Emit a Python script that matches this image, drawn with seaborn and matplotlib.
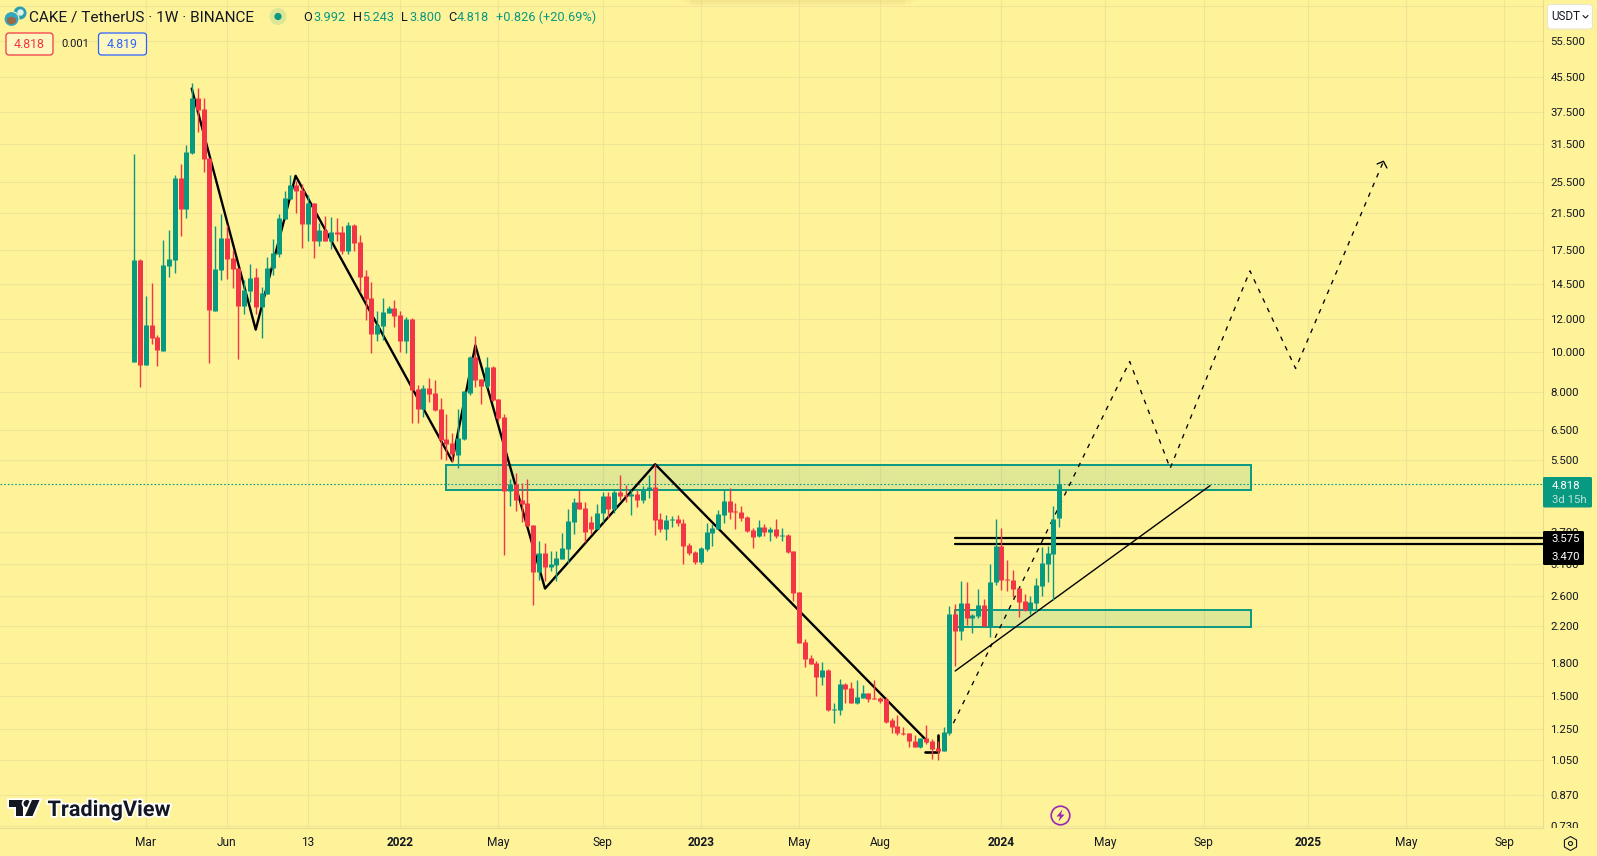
import numpy as np
import pandas as pd
import seaborn as sns
import matplotlib
matplotlib.use('Agg')
import matplotlib.pyplot as plt
import matplotlib.patheffects as pe
from matplotlib.patches import Rectangle, Circle, Polygon, FancyBboxPatch, RegularPolygon, Ellipse
from matplotlib.ticker import NullLocator
from matplotlib.transforms import Bbox, TransformedBbox

# weekly candles, index 0 = week of 15 Feb 2021
opens = [9.45,16.59,9.30,11.59,10.86,10.05,16.06,16.59,26.06,21.99,
         29.93,40.5,38.1,29.1,12.52,15.71,18.74,16.78,15.88,12.88,
         14.0,15.1,12.81,13.75,15.88,17.16,20.8,23.23,25.1,24.41,
         20.24,22.72,18.43,19.57,18.43,19.35,19.35,17.45,20.13,18.33,
         15.2,13.47,11.05,11.53,12.4,12.74,12.27,10.62,12.0,8.14,
         7.29,8.19,7.96,7.29,6.19,6.05,5.67,6.19,7.96,9.72,
         8.61,8.28,9.2,7.71,6.99,4.65,4.83,4.42,4.34,3.85,
         2.97,3.3,3.05,3.08,3.19,3.37,3.92,4.37,4.23,3.92,
         3.76,4.1,4.51,4.2,4.61,4.54,4.51,4.57,4.42,4.67,
         4.75,3.98,3.76,3.96,3.98,3.9,3.45,3.32,3.13,3.37,
         3.68,3.77,4.07,4.4,4.16,4.13,4.02,3.75,3.63,3.81,
         3.7,3.77,3.63,3.65,3.34,2.66,2.02,1.85,1.8,1.66,
         1.73,1.385,1.39,1.6,1.57,1.44,1.48,1.52,1.48,1.48,
         1.47,1.31,1.27,1.225,1.22,1.17,1.13,1.19,1.17,1.125,
         1.107,1.225,2.35,2.145,2.50,2.31,2.33,2.48,2.21,2.81,
         3.43,2.86,2.84,2.72,2.53,2.41,2.50,2.75,3.10,3.28,3.992]
closes = [16.59,9.30,11.59,10.80,10.10,16.14,16.68,26.06,21.99,30.1,
          40.5,37.9,28.95,12.59,15.8,18.74,16.68,15.8,12.88,14.07,
          15.01,12.81,13.82,15.88,17.25,20.92,23.36,25.1,24.28,20.24,
          22.72,18.43,19.57,18.43,19.35,19.2,17.45,20.13,18.23,15.1,
          13.39,11.05,11.59,12.45,12.74,12.2,10.62,12.0,8.10,7.29,
          8.19,7.92,7.25,6.16,6.02,5.7,6.22,8.05,9.72,8.56,
          8.28,9.2,7.67,6.95,4.65,4.83,4.42,4.33,3.83,2.97,
          3.3,3.05,3.1,3.21,3.39,3.93,4.37,4.2,3.7,3.76,
          4.12,4.51,4.2,4.61,4.51,4.51,4.57,4.42,4.67,4.75,
          3.96,3.76,3.96,3.98,3.9,3.43,3.3,3.13,3.39,3.7,
          3.79,4.09,4.4,4.13,4.13,4.0,3.73,3.6,3.81,3.7,
          3.77,3.63,3.65,3.32,2.65,2.01,1.84,1.79,1.66,1.73,
          1.39,1.395,1.6,1.56,1.44,1.49,1.52,1.47,1.47,1.46,
          1.3,1.26,1.22,1.215,1.17,1.13,1.19,1.16,1.12,1.107,
          1.23,2.35,2.145,2.50,2.31,2.34,2.48,2.21,2.81,3.43,
          2.84,2.84,2.70,2.51,2.41,2.51,2.76,3.12,3.30,3.97,4.818]
highs = [29.77,16.65,13.60,14.62,10.98,18.53,19.57,26.5,28.16,31.3,
         44.0,42.85,40.5,29.1,20.0,21.4,20.13,17.54,15.88,14.85,
         16.23,15.88,14.3,16.87,18.64,21.4,24.28,26.5,25.67,25.25,
         23.73,22.72,20.35,21.15,21.04,20.92,20.0,20.46,20.24,19.06,
         15.71,14.7,12.52,13.47,12.88,13.32,12.52,12.12,12.06,8.33,
         8.33,8.66,8.56,7.75,7.1,6.4,7.29,8.05,9.77,10.91,
         8.61,9.72,9.25,7.71,7.1,4.97,5.13,4.86,4.95,3.85,
         3.53,3.49,3.33,3.33,3.68,4.2,4.47,4.67,4.37,4.04,
         4.31,4.61,4.61,4.67,5.06,4.8,4.67,4.67,4.77,5.06,
         5.38,4.12,4.06,4.04,4.06,3.97,3.49,3.34,3.41,3.9,
         3.86,4.18,4.67,4.72,4.35,4.28,4.04,3.79,3.95,3.86,
         3.81,3.97,3.79,3.67,3.34,2.66,2.05,1.88,1.82,1.81,
         1.74,1.44,1.65,1.61,1.62,1.64,1.59,1.52,1.64,1.49,
         1.49,1.33,1.35,1.26,1.225,1.21,1.19,1.28,1.18,1.17,
         1.26,2.46,2.49,2.82,2.81,2.36,2.70,2.56,3.10,3.97,
         3.78,3.17,3.01,2.72,2.63,2.60,2.87,3.41,3.43,4.27,5.243]
lows = [9.45,8.24,9.30,10.43,9.25,10.05,15.10,15.45,18.95,20.92,
        29.77,33.7,26.95,9.4,12.52,14.85,14.93,14.22,9.6,12.33,
        13.17,12.33,10.8,13.75,15.28,16.87,20.8,23.23,21.49,17.77,
        18.43,16.78,17.95,18.43,17.67,18.43,17.16,17.16,17.45,13.91,
        11.92,9.94,10.62,10.68,12.4,11.47,10.0,9.94,6.76,6.76,
        6.98,7.58,7.21,5.54,5.51,5.44,5.27,6.16,7.87,8.23,
        7.5,8.19,7.63,6.83,3.26,4.27,4.16,3.92,3.83,2.48,
        2.84,2.83,2.98,2.83,3.19,3.12,3.66,4.2,3.51,3.66,
        3.76,3.92,4.0,4.12,4.42,4.37,4.06,4.26,4.34,4.47,
        3.64,3.7,3.55,3.81,3.83,3.11,3.26,3.11,3.11,3.34,
        3.43,3.77,3.9,3.97,3.77,3.93,3.7,3.39,3.6,3.63,
        3.53,3.59,3.53,3.3,2.53,2.01,1.76,1.79,1.5,1.59,
        1.38,1.29,1.35,1.44,1.44,1.43,1.48,1.45,1.47,1.44,
        1.29,1.22,1.21,1.21,1.13,1.13,1.125,1.15,1.06,1.055,
        1.107,1.21,1.77,2.04,2.22,2.12,2.30,2.21,2.07,2.77,
        2.69,2.67,2.59,2.32,2.40,2.35,2.38,2.60,2.81,2.54,3.800]

# hand drawn lines on the chart
zigzag_weeks = [9.93, 21.0, 27.9, 55.0, 59.0, 71.05, 90.1, 137.2]
zigzag_prices = [42.7, 11.3, 26.4, 5.47, 10.36, 2.71, 5.38, 1.167]
corner_weeks = [136.7, 139.1, 139.1]
corner_prices = [1.10, 1.10, 1.21]
forecast_weeks = [141.7, 172.2, 179.2, 193.0, 200.9, 216.1]
forecast_prices = [1.29, 9.48, 5.26, 15.63, 9.12, 28.6]
arrow_weeks = [215.0, 216.1, 216.7]
arrow_prices = [28.17, 28.6, 27.56]
trend_weeks = [142.0, 186.1]
trend_prices = [1.72, 4.78]
zone_left = [53.9, 142.0]
zone_right = [193.2, 193.2]
zone_top = [5.36, 2.41]
zone_bottom = [4.67, 2.19]
level_prices = [3.575, 3.470]
level_start = 142.0
last_price = 4.818

price_ticks = [55.5, 45.5, 37.5, 31.5, 25.5, 21.5, 17.5, 14.5, 12.0, 10.0, 8.0, 6.5, 5.5,
               3.7, 3.1, 2.6, 2.2, 1.8, 1.5, 1.25, 1.05, 0.87, 0.73]
hidden_tick = 67.5
time_ticks = [2, 16, 30, 46, 63, 81, 98, 115, 129, 150, 168, 185, 203, 220, 237]
time_labels = ['Mar', 'Jun', '13', '2022', 'May', 'Sep', '2023', 'May', 'Aug', '2024',
               'May', 'Sep', '2025', 'May', 'Sep']

BG = '#FFF39A'
GRID = '#F0E596'
GREEN = '#089981'
RED = '#F23645'
TEXT = '#131722'

W, H = 1597, 856
AX_R, AX_B = 1543, 828

sns.set_theme(style='whitegrid', rc={
    'figure.facecolor': BG, 'axes.facecolor': BG, 'grid.color': GRID,
    'grid.linewidth': 0.9, 'axes.edgecolor': '#E8DC90', 'axes.linewidth': 0.8,
})
plt.rcParams['font.family'] = ['Roboto', 'DejaVu Sans']

fig = plt.figure(figsize=(W / 100, H / 100), dpi=100)
ax = fig.add_axes([0, (H - AX_B) / H, AX_R / W, AX_B / H])
ax.set_yscale('log')

weeks = np.arange(len(opens))
df = pd.DataFrame({'week': weeks, 'open': opens, 'close': closes, 'high': highs, 'low': lows})
df['side'] = np.where(df['close'] >= df['open'], 'up', 'down')
colors = {'up': GREEN, 'down': RED}

wicks = df.melt(id_vars=['week', 'side'], value_vars=['low', 'high'], value_name='price')
bodies = df.melt(id_vars=['week', 'side'], value_vars=['open', 'close'], value_name='price')

ax.axhline(hidden_tick, color=GRID, linewidth=0.9, zorder=0.5)

# drawings sit under the candles
for z in range(len(zone_left)):
    ax.add_patch(Rectangle((zone_left[z], zone_bottom[z]), zone_right[z] - zone_left[z],
                           zone_top[z] - zone_bottom[z], facecolor=GREEN, alpha=0.12,
                           edgecolor='none', zorder=1.5))
    ax.add_patch(Rectangle((zone_left[z], zone_bottom[z]), zone_right[z] - zone_left[z],
                           zone_top[z] - zone_bottom[z], fill=False,
                           edgecolor=GREEN, linewidth=1.4, zorder=1.6))

sns.lineplot(x=zigzag_weeks, y=zigzag_prices, color='black', linewidth=1.7, ax=ax, sort=False,
             estimator=None, zorder=2)
sns.lineplot(x=corner_weeks, y=corner_prices, color='black', linewidth=1.9, ax=ax, sort=False,
             estimator=None, zorder=2)
sns.lineplot(x=forecast_weeks, y=forecast_prices, color='black', linewidth=0.95, ax=ax, sort=False,
             estimator=None, linestyle=(0, (3.5, 4.5)), zorder=2)
sns.lineplot(x=arrow_weeks, y=arrow_prices, color='black', linewidth=0.95, ax=ax, sort=False,
             estimator=None, zorder=2)
sns.lineplot(x=trend_weeks, y=trend_prices, color='black', linewidth=1.0, ax=ax, sort=False,
             estimator=None, zorder=2)
for level in level_prices:
    ax.plot([level_start, 260], [level, level], color='black', linewidth=1.6, zorder=2)

ax.axhline(last_price, color=GREEN, linewidth=0.8, linestyle=(0, (1.5, 1.8)), zorder=1.8)

sns.lineplot(data=wicks, x='week', y='price', hue='side', palette=colors, units='week',
             estimator=None, sort=False, linewidth=1.0, legend=False, ax=ax, zorder=3,
             solid_capstyle='butt')
sns.lineplot(data=bodies, x='week', y='price', hue='side', palette=colors, units='week',
             estimator=None, sort=False, linewidth=3.6, legend=False, ax=ax, zorder=3.1,
             solid_capstyle='butt')

# scale limits picked so the ticks land where they do on the chart
ax.set_xlim(-23.24, 243.7)
ax.set_ylim(0.7236, 69.6)
ax.yaxis.tick_right()
ax.yaxis.set_minor_locator(NullLocator())
ax.set_yticks(price_ticks)
ax.set_yticklabels(['%.3f' % p for p in price_ticks], fontsize=8.2, color=TEXT)
ax.set_xticks(time_ticks)
ax.set_xticklabels(time_labels, fontsize=8.6, color=TEXT)
ax.tick_params(axis='y', length=0, pad=5.4, labelright=True, labelleft=False)
ax.tick_params(axis='x', length=0, pad=5.5)
ax.set_xlabel('')
ax.set_ylabel('')
ax.grid(True, axis='both')
ax.set_axisbelow(True)
for s in ['top', 'left']:
    ax.spines[s].set_visible(False)
for lab in ax.get_xticklabels():
    if lab.get_text().startswith('20'):
        lab.set_fontweight('bold')
# bottom tick is cut off by the time axis
clip = TransformedBbox(Bbox([[0.9, (H - AX_B) / H], [1, 1]]), fig.transFigure)
low_tick = ax.yaxis.get_major_ticks()[-1].label2
low_tick.set_clip_box(clip)
low_tick.set_clip_on(True)

# screenshot furniture, in pixel coordinates
ui = fig.add_axes([0, 0, 1, 1], zorder=10)
ui.set_xlim(0, W)
ui.set_ylim(H, 0)
ui.axis('off')
ui.patch.set_alpha(0)

# shadow of a toast hiding above the screen
for grow, a in [(0, 0.10), (6, 0.06), (12, 0.04)]:
    ui.add_patch(Rectangle((690 - grow, 0), 215 + 2 * grow, 5 - grow / 4, color='#C8B860', alpha=a, lw=0))

# header
ui.add_patch(Circle((20, 13), 6.5, color='#2A9FB0', lw=0))
ui.add_patch(Circle((20.5, 12.5), 3.2, color='#DDF3EE', lw=0))
ui.add_patch(Circle((11.5, 19), 7.5, color='#2FA8C4', ec=BG, lw=0.8))
ui.add_patch(Ellipse((11.5, 20.5), 9.5, 7.5, color='#9A6A45', lw=0))
ui.text(29, 17, 'CAKE / TetherUS · 1W · BINANCE', fontsize=11.1, color=TEXT, va='center')
ui.add_patch(Circle((278, 16.5), 8.5, color=GREEN, alpha=0.14, lw=0))
ui.add_patch(Circle((278, 16.5), 3.6, color=GREEN, lw=0))
for x, txt, col in [(303.5, 'O', TEXT), (313.5, '3.992', GREEN), (352.5, 'H', TEXT), (362.5, '5.243', GREEN),
                    (401.5, 'L', TEXT), (409.5, '3.800', GREEN), (448, 'C', TEXT), (456.5, '4.818', GREEN),
                    (496.5, '+0.826 (+20.69%)', GREEN)]:
    ui.text(x, 17, txt, fontsize=9.2, color=col, va='center')
ui.add_patch(FancyBboxPatch((6, 33), 47, 22, boxstyle='round,pad=0,rounding_size=3', fc='#FFF7C0', ec=RED, lw=0.9))
ui.text(29.5, 44.5, '4.818', fontsize=8.9, color=RED, ha='center', va='center')
ui.text(75.5, 44, '0.001', fontsize=8, color=TEXT, ha='center', va='center')
ui.add_patch(FancyBboxPatch((98.5, 33), 48, 22, boxstyle='round,pad=0,rounding_size=3', fc='#FFF7C0', ec='#2962FF', lw=0.9))
ui.text(122.5, 44.5, '4.819', fontsize=8.9, color='#2962FF', ha='center', va='center')

# currency button
ui.add_patch(FancyBboxPatch((1547.5, 4.5), 45, 24.5, boxstyle='round,pad=0,rounding_size=3', fc='white', ec='#EAE6CC', lw=0.8))
ui.text(1551.5, 16.8, 'USDT', fontsize=8.4, color=TEXT, va='center')
ui.plot([1583, 1585.5, 1588], [15.5, 18, 15.5], color=TEXT, lw=0.8)

# price badges
ui.add_patch(FancyBboxPatch((1543, 477), 49, 30.5, boxstyle='round,pad=0,rounding_size=1.5', fc=GREEN, ec='none'))
ui.text(1551.5, 486, '4.818', fontsize=8.2, color='white', va='center')
ui.text(1551.5, 499.5, '3d 15h', fontsize=8.2, color='#BFE3DA', va='center')
ui.add_patch(FancyBboxPatch((1543, 531), 41, 34, boxstyle='round,pad=0,rounding_size=1.5', fc='black', ec='none'))
ui.text(1551.5, 539.5, '3.575', fontsize=8.2, color='white', va='center')
ui.text(1551.5, 556.5, '3.470', fontsize=8.2, color='white', va='center')

# logo with its white halo
halo = [pe.withStroke(linewidth=2.6, foreground='white')]
logo_bits = [Polygon([(8.7, 800), (23, 800), (23, 816), (15.5, 816), (15.5, 807), (8.7, 807)], color='#131722', lw=0),
             Circle((27, 803.5), 3.5, color='#131722', lw=0),
             Polygon([(32, 800), (39.5, 800), (32.5, 816), (25, 816)], color='#131722', lw=0)]
for bit in logo_bits:
    bit.set_path_effects([pe.withStroke(linewidth=2.6, foreground='white')])
    ui.add_patch(bit)
ui.text(47.5, 816, 'TradingView', fontsize=15.6, fontweight='bold', color='#131722', va='baseline',
        path_effects=halo)

# lightning marker
ui.add_patch(Circle((1060.5, 815.5), 9.3, fc='none', ec='#9C27B0', lw=1.2))
ui.add_patch(Polygon([(1062.5, 809.5), (1056.5, 816.5), (1060, 816.5), (1058.5, 821.5), (1064.5, 814.5),
                      (1061, 814.5)], color='#9C27B0', lw=0))

# settings icon
ui.add_patch(RegularPolygon((1570.5, 843.5), 6, radius=7, fc='none', ec=TEXT, lw=0.8))
ui.add_patch(Circle((1570.5, 843.5), 2, fc='none', ec=TEXT, lw=0.8))

fig.savefig('out.png', dpi=100, facecolor=BG)
